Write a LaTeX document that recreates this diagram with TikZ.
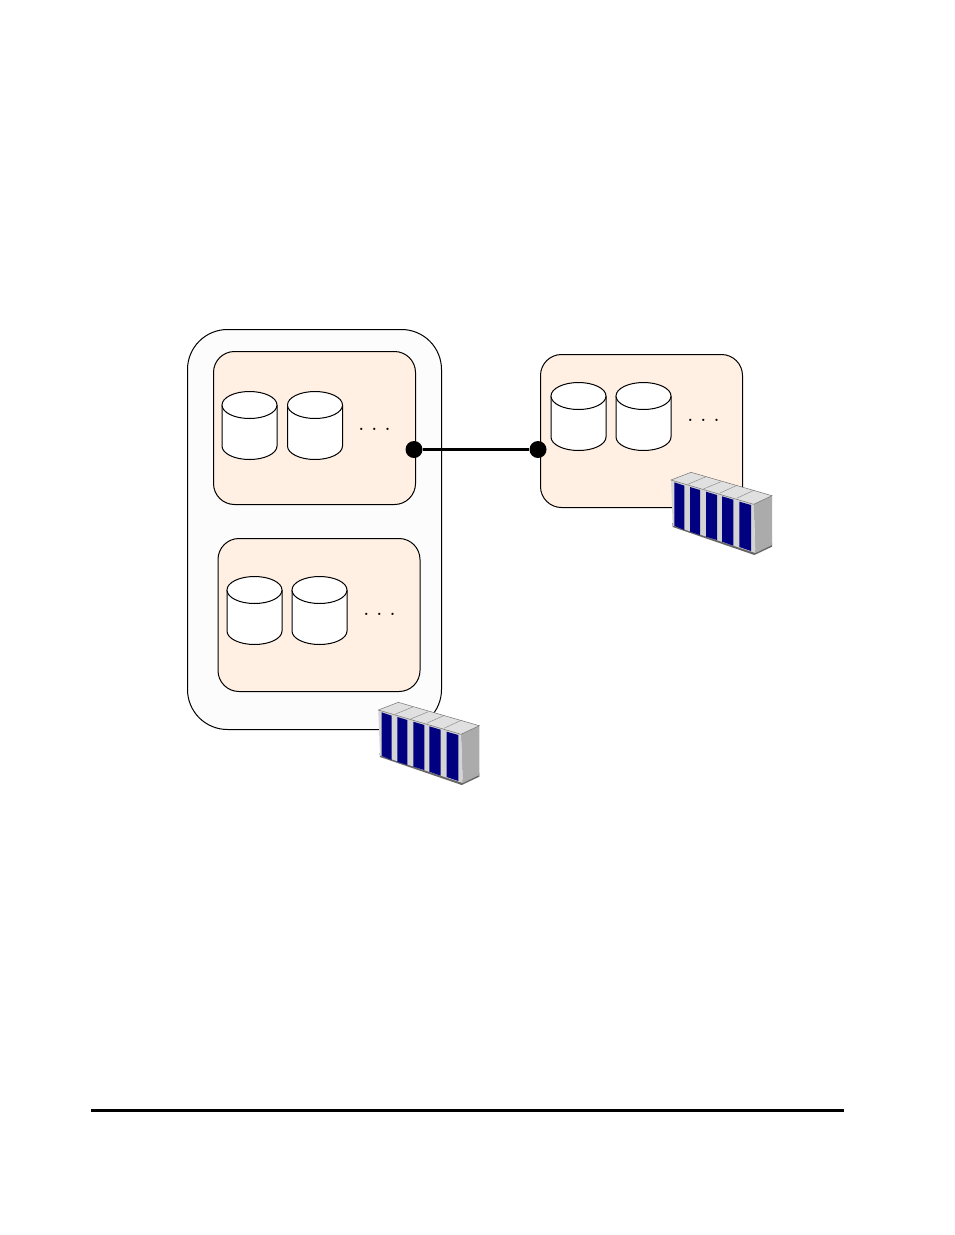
\documentclass[tikz,border=0pt]{standalone}
\usepackage{xcolor}
\usetikzlibrary{positioning}
\definecolor{sitefill}{HTML}{FFF0E3}
\definecolor{groupfill}{HTML}{FCFCFC}
\definecolor{rackblue}{HTML}{000080}
\tikzset{
  groupbox/.style={draw,fill=groupfill,rounded corners=40pt,line width=1pt,inner sep=0pt,anchor=north west,minimum width=254pt,minimum height=400pt},
  sitebox/.style={draw,fill=sitefill,rounded corners=21pt,line width=1pt,inner sep=0pt,anchor=north west,minimum width=202pt,minimum height=153pt},
  joint/.style={circle,fill=black,inner sep=0pt,minimum size=17pt},
  moredots/.style={anchor=base,inner sep=0pt,font=\fontsize{28}{32}\selectfont},
  disk/.pic={
    \draw[fill=white,line width=1pt] (-27.5,0) -- (-27.5,-41) arc[start angle=180,end angle=360,x radius=27.5,y radius=13.5] -- (27.5,0);
    \draw[fill=white,line width=1pt] (0,0) ellipse[x radius=27.5,y radius=13.5];
  },
  rack/.pic={
    \fill[black!60] (9.5,-58) -- (91.5,-85) -- (109.3,-78) -- (109.3,-81.7) -- (91.7,-90) -- (10,-62) -- cycle;
    \fill[black!12] (8.3,-15) -- (28.3,-7.3) -- (109.3,-30.7) -- (91,-39.3) -- cycle;
    \fill[black!33] (91,-39.3) -- (109.3,-30.7) -- (109.3,-80) -- (92.7,-88) -- cycle;
    \fill[black!17] (8.3,-15) -- (91,-39.3) -- (92.7,-88) -- (10,-60.5) -- cycle;
    \draw[black!55,line width=.5pt] (8.3,-15) -- (28.3,-7.3) -- (109.3,-30.7) -- (91,-39.3) -- cycle;
    \foreach \xa/\xb/\ya/\yb/\yc/\yd in {
      11.7/21.7/-17.3/-20.7/-65/-61,
      27.3/37.3/-22/-25/-70/-66.7,
      43.3/54.3/-26.7/-30/-75/-71.7,
      59.3/70.7/-31.3/-34.7/-80.7/-76.7,
      76.7/88.3/-36.7/-40/-86/-82}
    {
      \fill[rackblue] (\xa,\ya) -- (\xb,\yb) -- (\xb,\yc) -- (\xa,\yd) -- cycle;
    }
    \foreach \xa/\ya/\xb/\yb in {
      25/-19.3/43.3/-11.7,
      40.7/-24/58.3/-16.7,
      56.7/-28.3/75/-20,
      74/-33.3/91.7/-25}
    {
      \draw[black!50,line width=.4pt] (\xa,\ya) -- (\xb,\yb);
    }
  }
}
\begin{document}
\begin{tikzpicture}[x=1pt,y=1pt]
  \useasboundingbox (0,0) rectangle (954,-1235);

  \node[groupbox] (group) at (187,-329) {};
  \node[sitebox] (siteA) at (213,-351) {};
  \node[sitebox] (siteB) at (217.5,-538) {};
  \node[sitebox] (siteC) at (540,-354) {};

  \path
  (249.5,-405) pic {disk}
  (315,-405) pic {disk}
  (254.5,-590) pic {disk}
  (319.5,-590) pic {disk}
  (578.5,-396) pic {disk}
  (643.5,-396) pic {disk}
  ;

  \node[moredots] (dotsA) at (374.5,-430) {.\hspace{6.2pt}.\hspace{6.2pt}.};
  \node[moredots] (dotsB) at (379.5,-615) {.\hspace{6.2pt}.\hspace{6.2pt}.};
  \node[moredots] (dotsC) at (703.5,-421) {.\hspace{6.2pt}.\hspace{6.2pt}.};

  \node[joint] (jointA) at (414,-449.5) {};
  \node[joint] (jointC) at (538,-449.5) {};
  \draw[line width=3.2pt] (jointA) -- (jointC);

  \path
  (370,-695) pic {rack}
  (662.7,-465) pic {rack}
  ;

  \coordinate (ruleL) at (91,-1110);
  \coordinate (ruleR) at (844,-1110);
  \draw[line width=3pt] (ruleL) -- (ruleR);
\end{tikzpicture}
\end{document}
